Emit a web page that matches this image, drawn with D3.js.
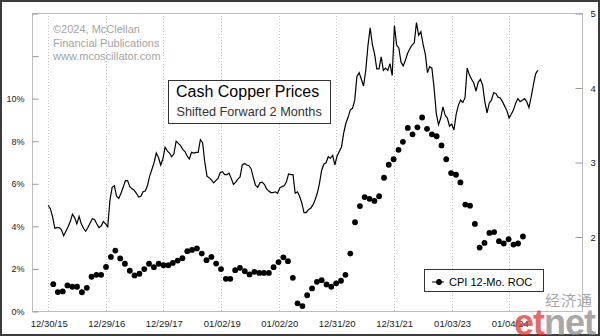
<!DOCTYPE html>
<html>
<head>
<meta charset="utf-8">
<script src="https://cdn.jsdelivr.net/npm/d3@7"></script>
<style>
  html, body { margin: 0; padding: 0; background: #fff; }
  svg { display: block; font-family: "Liberation Sans", Arial, sans-serif; }
</style>
</head>
<body>
<svg id="chart" width="600" height="336"></svg>
<script>
// x-axis tick dates and their labels
const tickDates = ["2015-12-30", "2016-12-29", "2017-12-29", "2019-01-02", "2020-01-02",
                   "2020-12-31", "2021-12-31", "2023-01-03", "2024-01-04"];
const tickLabels = ["12/30/15", "12/29/16", "12/29/17", "01/02/19", "01/02/20",
                    "12/31/20", "12/31/21", "01/03/23", "01/04/24"];

// left axis (CPI % change) and right axis (copper $/lb) ticks
const pctTicks = [0, 2, 4, 6, 8, 10, 12, 14];
const pctLabels = ["0%", "2%", "4%", "6%", "8%", "10%", "", ""];
const priceTicks = [2, 3, 4, 5];

// cash copper, $/lb, every two weeks, dates already shifted forward 2 months
const copperStart = "2015-12-30";
const copperStepDays = 14;
const copper = [
  2.42, 2.37, 2.26, 2.11, 2.12, 2.12, 2.09, 2.01, 2.07, 2.13,
  2.20, 2.30, 2.25, 2.17, 2.27, 2.17, 2.11, 2.07, 2.12, 2.18,
  2.24, 2.23, 2.17, 2.12, 2.14, 2.20, 2.17, 2.13, 2.49, 2.66,
  2.68, 2.54, 2.51, 2.58, 2.66, 2.75, 2.75, 2.67, 2.64, 2.62,
  2.58, 2.53, 2.54, 2.60, 2.61, 2.68, 2.81, 2.90, 2.99, 3.12,
  3.06, 2.96, 3.04, 3.20, 3.15, 3.12, 3.07, 3.11, 3.28, 3.25,
  3.22, 3.17, 3.14, 3.08, 3.04, 3.13, 3.12, 3.13, 3.13, 3.30,
  3.26, 3.00, 2.81, 2.79, 2.76, 2.72, 2.75, 2.78, 2.86, 2.87,
  2.83, 2.83, 2.85, 2.78, 2.70, 2.73, 2.77, 2.80, 2.96, 2.98,
  2.96, 2.95, 2.91, 2.79, 2.69, 2.66, 2.72, 2.73, 2.70, 2.64,
  2.61, 2.59, 2.59, 2.60, 2.58, 2.65, 2.67, 2.68, 2.73, 2.84,
  2.83, 2.83, 2.58, 2.60, 2.54, 2.45, 2.32, 2.32, 2.36, 2.38,
  2.42, 2.49, 2.58, 2.71, 2.89, 2.97, 2.99, 3.07, 3.05, 3.09,
  2.96, 3.08, 3.14, 3.20, 3.39, 3.52, 3.60, 3.70, 3.72, 3.83,
  4.15, 4.20, 4.11, 4.02, 4.23, 4.56, 4.80, 4.58, 4.45, 4.25,
  4.25, 4.41, 4.23, 4.26, 4.23, 4.32, 4.16, 4.83, 4.57, 4.53,
  4.34, 4.29, 4.37, 4.46, 4.52, 4.57, 4.60, 4.87, 4.70, 4.75,
  4.58, 4.45, 4.20, 4.28, 4.26, 3.99, 3.65, 3.50, 3.59, 3.74,
  3.63, 3.59, 3.48, 3.51, 3.43, 3.64, 3.76, 3.83, 3.80, 3.86,
  4.26, 4.17, 4.11, 4.06, 3.95, 4.07, 4.11, 4.03, 3.81, 3.66,
  3.79, 3.83, 3.93, 3.92, 3.87, 3.86, 3.81, 3.75, 3.69, 3.59,
  3.64, 3.70, 3.79, 3.85, 3.81, 3.83, 3.85, 3.81, 3.73, 3.87,
  4.03, 4.18, 4.23
];

// CPI 12-month rate of change, %, monthly from January 2016
const cpiStart = "2016-01-01";
const cpi = [
  1.26, 0.89, 0.92, 1.20, 1.14, 1.14, 0.88, 1.09, 1.61, 1.70, 1.70, 2.07,
  2.54, 2.84, 2.47, 2.22, 1.89, 1.67, 1.75, 1.97, 2.22, 2.06, 2.22, 2.15,
  2.15, 2.26, 2.37, 2.48, 2.81, 2.87, 2.94, 2.70, 2.39, 2.54, 2.23, 1.97,
  1.51, 1.51, 1.92, 2.03, 1.87, 1.72, 1.84, 1.79, 1.79, 1.79, 2.06, 2.30,
  2.52, 2.34, 1.56, 0.36, 0.23, 0.74, 1.06, 1.37, 1.45, 1.25, 1.14, 1.30,
  1.42, 1.70, 2.70, 4.17, 4.93, 5.35, 5.27, 5.17, 5.39, 6.26, 6.87, 7.13,
  7.57, 7.95, 8.60, 8.30, 8.63, 9.09, 8.56, 8.30, 8.21, 7.78, 7.13, 6.48,
  6.40, 6.04, 5.00, 4.95, 4.09, 2.98, 3.20, 3.67, 3.71, 3.28, 3.17, 3.37,
  3.12, 3.17, 3.50
];

const parse = d3.timeParse("%Y-%m-%d");
const W = 600, H = 336;
const plot = { left: 32, right: 582, top: 13, bottom: 311 };

const svg = d3.select("#chart");

const x = d3.scaleTime()
  .domain([parse("2015-09-18"), parse("2025-04-10")])
  .range([plot.left, plot.right]);
const yPct = d3.scaleLinear().domain([0, 14]).range([plot.bottom, plot.top]);
const yPrice = d3.scaleLinear().domain([1, 5]).range([plot.bottom, plot.top]);

const copperData = copper.map((v, i) => ({
  date: d3.timeDay.offset(parse(copperStart), i * copperStepDays), value: v
}));
const cpiData = cpi.map((v, i) => ({
  // each reading sits at the end of its month
  date: d3.timeDay.offset(d3.timeMonth.offset(parse(cpiStart), i + 1), -1), value: v
}));

// page frame
svg.append("rect").attr("x", 0).attr("y", 0).attr("width", W).attr("height", H).attr("fill", "#fff");
svg.append("rect").attr("x", 1).attr("y", 1).attr("width", W - 2).attr("height", H - 2)
  .attr("fill", "none").attr("stroke", "#3c3c3c").attr("stroke-width", 2);

// vertical date grid
const tickDateObjs = tickDates.map(parse);
svg.append("g").selectAll("line").data(tickDateObjs).join("line")
  .attr("x1", d => Math.round(x(d)) + 0.5).attr("x2", d => Math.round(x(d)) + 0.5)
  .attr("y1", plot.top).attr("y2", plot.bottom)
  .attr("stroke", "#c4c4c4").attr("stroke-dasharray", "1,2");

// plot frame
svg.append("rect")
  .attr("x", plot.left + 0.5).attr("y", plot.top + 0.5)
  .attr("width", plot.right - plot.left).attr("height", plot.bottom - plot.top)
  .attr("fill", "none").attr("stroke", "#bdbdbd");

// left axis
const leftAxis = svg.append("g")
  .attr("transform", `translate(${plot.left + 0.5},0.5)`)
  .call(d3.axisLeft(yPct).tickValues(pctTicks).tickSize(-6).tickPadding(8)
    .tickFormat((d, i) => pctLabels[i]));
// right axis
const rightAxis = svg.append("g")
  .attr("transform", `translate(${plot.right + 0.5},0.5)`)
  .call(d3.axisRight(yPrice).tickValues(priceTicks).tickSize(-7).tickPadding(8)
    .tickFormat(d3.format("d")));
// bottom axis
const bottomAxis = svg.append("g")
  .attr("transform", `translate(0.5,${plot.bottom})`)
  .call(d3.axisBottom(x).tickValues(tickDateObjs).tickSize(0).tickPadding(9)
    .tickFormat((d, i) => tickLabels[i]));

[leftAxis, rightAxis, bottomAxis].forEach(g => {
  g.select(".domain").remove();
  g.selectAll(".tick line").attr("stroke", "#9a9a9a");
  g.selectAll("text").attr("fill", "#222").attr("font-family", "Liberation Sans, Arial, sans-serif");
});
leftAxis.selectAll("text").attr("font-size", 9);
rightAxis.selectAll("text").attr("font-size", 9.5);
bottomAxis.selectAll("text").attr("font-size", 9.5);

// copyright note
const note = svg.append("text").attr("x", 53).attr("y", 33)
  .attr("fill", "#a3a3a3").attr("font-size", 11);
["©2024, McClellan", "Financial Publications", "www.mcoscillator.com"].forEach((t, i) => {
  note.append("tspan").attr("x", 53).attr("dy", i === 0 ? 0 : 13.5).text(t);
});

// title box
svg.append("rect").attr("x", 168.5).attr("y", 80.5).attr("width", 162).attr("height", 43)
  .attr("fill", "#fff").attr("stroke", "#333");
svg.append("text").attr("x", 176).attr("y", 97).attr("font-size", 16).attr("fill", "#000")
  .text("Cash Copper Prices");
svg.append("text").attr("x", 176.5).attr("y", 115.5).attr("font-size", 12.7).attr("fill", "#333")
  .text("Shifted Forward 2 Months");

// copper line (right axis)
svg.append("path").datum(copperData)
  .attr("fill", "none").attr("stroke", "#000").attr("stroke-width", 1.2)
  .attr("stroke-linejoin", "miter")
  .attr("d", d3.line().x(d => x(d.date)).y(d => yPrice(d.value)));

// CPI dots (left axis)
svg.append("g").selectAll("circle").data(cpiData).join("circle")
  .attr("cx", d => x(d.date)).attr("cy", d => yPct(d.value))
  .attr("r", 2.9).attr("fill", "#000");

// legend
const lg = svg.append("g");
lg.append("rect").attr("x", 424.5).attr("y", 269.5).attr("width", 119).attr("height", 22)
  .attr("fill", "#fff").attr("stroke", "#333");
lg.append("line").attr("x1", 432).attr("x2", 444).attr("y1", 282).attr("y2", 282)
  .attr("stroke", "#000");
lg.append("circle").attr("cx", 439).attr("cy", 282).attr("r", 2.9).attr("fill", "#000");
lg.append("text").attr("x", 449).attr("y", 286).attr("font-size", 11).attr("fill", "#000")
  .text("CPI 12-Mo. ROC");

// watermark
const wm = svg.append("g").attr("opacity", 0.75);
wm.append("text").attr("x", 545).attr("y", 306).attr("font-size", 15)
  .attr("font-family", "Noto Sans CJK SC, sans-serif").attr("fill", "#8a8a8a")
  .attr("letter-spacing", 1).text("经济通");
const et = wm.append("text").attr("x", 514).attr("y", 335).attr("font-size", 36)
  .attr("font-weight", "bold").attr("letter-spacing", -1);
et.append("tspan").attr("fill", "#e2362f").text("et");
et.append("tspan").attr("fill", "#8c8c8c").text("net");
</script>
</body>
</html>
